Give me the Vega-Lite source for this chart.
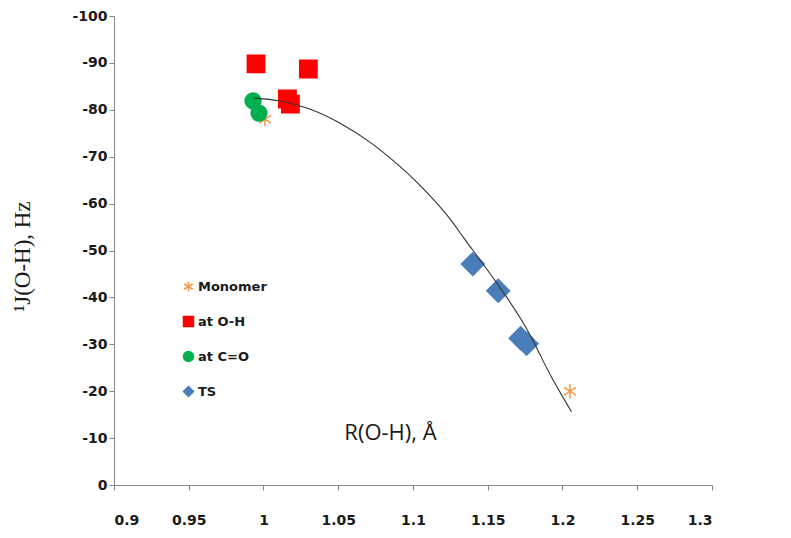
{
  "$schema": "https://vega.github.io/schema/vega-lite/v6.json",
  "width": 598,
  "height": 469,
  "autosize": {"type": "none"},
  "padding": {"left": 114, "top": 16, "right": 79, "bottom": 53},
  "background": "white",
  "config": {
    "view": {"stroke": null},
    "axis": {
      "grid": false,
      "domainColor": "#868686",
      "tickColor": "#868686",
      "tickSize": 5,
      "labelFont": "DejaVu Sans",
      "labelFontWeight": "bold",
      "labelFontSize": 14,
      "labelColor": "#1a1a1a"
    },
    "legend": {
      "labelFont": "DejaVu Sans",
      "labelFontWeight": "bold",
      "labelFontSize": 13,
      "labelColor": "#1a1a1a",
      "symbolSize": 100,
      "symbolStrokeWidth": 1.5
    }
  },
  "datasets": {
    "pts": [
      {"series": "Monomer", "r": 1.001, "j": -78},
      {"series": "Monomer", "r": 1.205, "j": -20},
      {"series": "at O-H", "r": 0.995, "j": -89.8},
      {"series": "at O-H", "r": 1.030, "j": -88.7},
      {"series": "at O-H", "r": 1.016, "j": -82.3},
      {"series": "at O-H", "r": 1.018, "j": -81.2},
      {"series": "at C=O", "r": 0.993, "j": -81.9},
      {"series": "at C=O", "r": 0.997, "j": -79.3},
      {"series": "TS", "r": 1.140, "j": -47.1},
      {"series": "TS", "r": 1.157, "j": -41.4},
      {"series": "TS", "r": 1.172, "j": -31.3},
      {"series": "TS", "r": 1.176, "j": -30.1}
    ],
    "curve": [
      {"r": 0.993, "j": -82.5},
      {"r": 1.010, "j": -82.1},
      {"r": 1.029, "j": -80.6},
      {"r": 1.051, "j": -77.4},
      {"r": 1.073, "j": -72.9},
      {"r": 1.091, "j": -68.0},
      {"r": 1.100, "j": -65.5},
      {"r": 1.123, "j": -57.8},
      {"r": 1.133, "j": -53.0},
      {"r": 1.145, "j": -48.0},
      {"r": 1.163, "j": -40.0},
      {"r": 1.176, "j": -33.6},
      {"r": 1.185, "j": -27.8},
      {"r": 1.192, "j": -23.2},
      {"r": 1.206, "j": -15.6}
    ]
  },
  "layer": [
    {
      "data": {"name": "pts"},
      "mark": {"type": "point", "filled": true, "strokeWidth": 1.5, "opacity": 1},
      "encoding": {
        "x": {
          "field": "r", "type": "quantitative",
          "scale": {"domain": [0.9, 1.3], "nice": false, "zero": false},
          "axis": {
            "values": [0.9, 0.95, 1, 1.05, 1.1, 1.15, 1.2, 1.25, 1.3],
            "labelExpr": "datum.value + ''",
            "labelPadding": 23,
            "title": "R(O-H), Å",
            "titleFont": "Open Sans",
            "titleFontWeight": "normal",
            "titleFontSize": 22,
            "titleColor": "#1a1a1a",
            "titleX": 276,
            "titleY": -53,
            "titleBaseline": "middle",
            "titleAnchor": "middle"
          }
        },
        "y": {
          "field": "j", "type": "quantitative",
          "scale": {"domain": [-100, 0], "reverse": true, "nice": false, "zero": false},
          "axis": {
            "values": [-100, -90, -80, -70, -60, -50, -40, -30, -20, -10, 0],
            "labelExpr": "datum.value + ''",
            "labelPadding": 2,
            "title": "¹J(O-H), Hz",
            "titleFont": "Liberation Serif",
            "titleFontWeight": "normal",
            "titleFontSize": 23,
            "titleColor": "#1a1a1a",
            "titleX": -92,
            "titleY": 240,
            "titleBaseline": "middle",
            "titleAngle": -90
          }
        },
        "color": {
          "field": "series", "type": "nominal",
          "scale": {"domain": ["Monomer", "at O-H", "at C=O", "TS"], "range": ["#F79646", "#FF0000", "#00B050", "#4A7EBB"]},
          "legend": {
            "title": null, "orient": "none", "legendX": 68, "legendY": 264, "rowPadding": 18, "labelOffset": 3,
            "symbolSize": 100
          }
        },
        "stroke": {
          "field": "series", "type": "nominal",
          "scale": {"domain": ["Monomer", "at O-H", "at C=O", "TS"], "range": ["#F79646", "#FF0000", "#00B050", "#4A7EBB"]},
          "legend": {"title": null, "orient": "none", "legendX": 68, "legendY": 264, "rowPadding": 18, "labelOffset": 3}
        },
        "shape": {
          "field": "series", "type": "nominal",
          "scale": {"domain": ["Monomer", "at O-H", "at C=O", "TS"], "range": ["M0,-1V1M-0.85,-0.55L0.85,0.55M-0.85,0.55L0.85,-0.55", "square", "circle", "diamond"]},
          "legend": {"title": null, "orient": "none", "legendX": 68, "legendY": 264, "rowPadding": 18, "labelOffset": 3}
        },
        "size": {
          "condition": [
            {"test": "datum.series === 'Monomer'", "value": 196},
            {"test": "datum.series === 'at O-H'", "value": 300},
            {"test": "datum.series === 'at C=O'", "value": 250}
          ],
          "value": 520
        }
      }
    },
    {
      "data": {"name": "curve"},
      "mark": {"type": "line", "color": "#333333", "strokeWidth": 1.1, "interpolate": "basis"},
      "encoding": {
        "x": {"field": "r", "type": "quantitative"},
        "y": {"field": "j", "type": "quantitative"}
      }
    }
  ]
}
